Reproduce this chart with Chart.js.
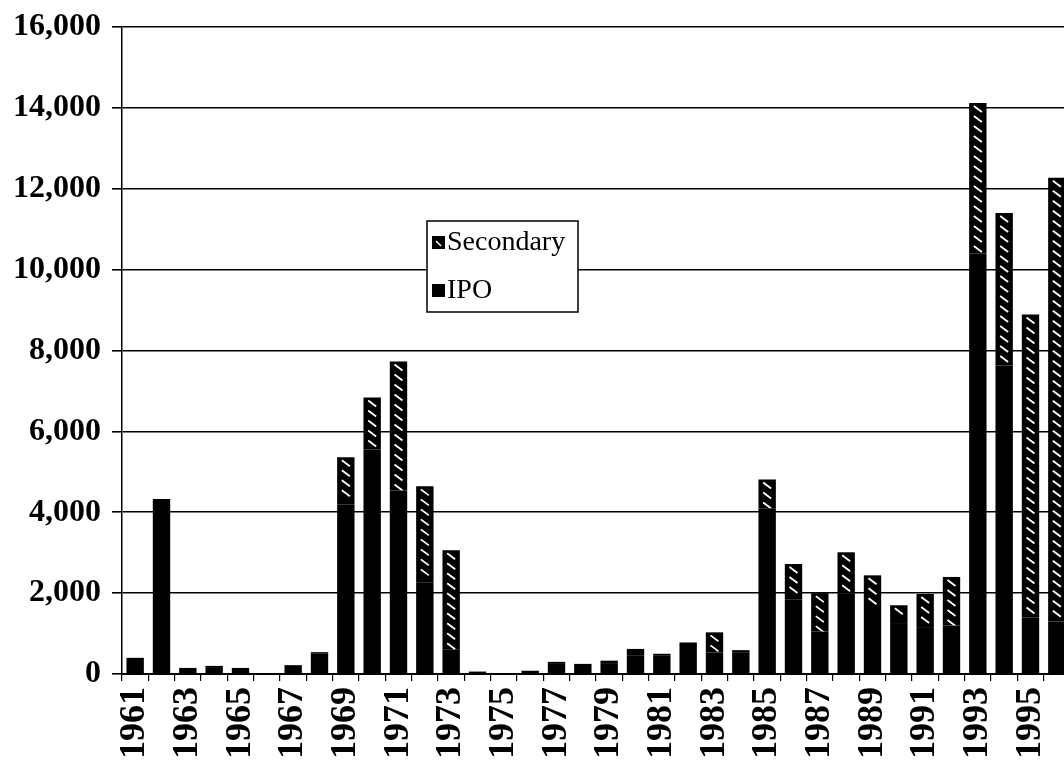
<!DOCTYPE html>
<html>
<head>
<meta charset="utf-8">
<script src="https://cdn.jsdelivr.net/npm/chart.js@4.4.1/dist/chart.umd.min.js"></script>
<style>
  html, body { margin: 0; padding: 0; background: #fff; overflow: hidden; }
  #wrap { width: 1072px; height: 768px; position: relative; }
</style>
</head>
<body>
<div id="wrap"><canvas id="chart"></canvas></div>
<script>
// values (millions)
const years = ["1961","1962","1963","1964","1965","1966","1967","1968","1969","1970",
               "1971","1972","1973","1974","1975","1976","1977","1978","1979","1980",
               "1981","1982","1983","1984","1985","1986","1987","1988","1989","1990",
               "1991","1992","1993","1994","1995","1996"];
const ipo = [400, 4330, 150, 150, 150, 0, 200, 500, 4200, 5550,
             4540, 2270, 600, 60, 0, 80, 250, 250, 250, 450,
             450, 780, 530, 540, 4100, 1850, 1050, 2000, 1580, 1260,
             1140, 1200, 10400, 7630, 1400, 1300];
const secondary = [0, 0, 0, 50, 0, 0, 20, 40, 1160, 1290,
                   3190, 2370, 2460, 0, 0, 0, 50, 0, 80, 170,
                   50, 0, 500, 50, 710, 870, 950, 1010, 860, 440,
                   840, 1200, 3720, 3770, 7490, 10970];
const yTicks = [0, 2000, 4000, 6000, 8000, 10000, 12000, 14000, 16000];

const serif = '"Liberation Serif", "DejaVu Serif", serif';

// white diagonal dashes on the secondary (black) bars
const hatchPlugin = {
    id: 'hatch',
    afterDatasetsDraw(chart) {
        const meta = chart.getDatasetMeta(1);
        const ctx = chart.ctx;
        ctx.save();
        ctx.strokeStyle = '#fff';
        ctx.lineWidth = 1.8;
        meta.data.forEach(bar => {
            const top = Math.min(bar.y, bar.base);
            const bottom = Math.max(bar.y, bar.base);
            if (bottom - top < 6) return;
            const half = bar.width / 2;
            ctx.save();
            ctx.beginPath();
            ctx.rect(bar.x - half, top, bar.width, bottom - top);
            ctx.clip();
            ctx.beginPath();
            for (let y = top + 6; y < bottom - 2; y += 10) {
                ctx.moveTo(bar.x - 4, y - 3);
                ctx.lineTo(bar.x + 4, y + 3);
            }
            ctx.stroke();
            ctx.restore();
        });
        ctx.restore();
    }
};

// legend box inside the plot
const boxLegend = {
    id: 'boxLegend',
    afterDraw(chart) {
        const ctx = chart.ctx;
        const x = 427, y = 221, w = 151, h = 91;
        ctx.save();
        ctx.fillStyle = '#fff';
        ctx.fillRect(x, y, w, h);
        ctx.strokeStyle = '#000';
        ctx.lineWidth = 1.5;
        ctx.strokeRect(x, y, w, h);
        const items = [chart.data.datasets[1], chart.data.datasets[0]];
        ctx.font = '28px ' + serif;
        ctx.textBaseline = 'middle';
        items.forEach((ds, i) => {
            const cy = y + 21 + i * 48;
            ctx.fillStyle = '#000';
            ctx.fillRect(x + 5, cy - 6, 13, 13);
            if (i === 0) {
                ctx.strokeStyle = '#fff';
                ctx.lineWidth = 1.4;
                ctx.beginPath();
                ctx.moveTo(x + 9, cy - 1);
                ctx.lineTo(x + 14, cy + 4);
                ctx.stroke();
            }
            ctx.fillStyle = '#000';
            ctx.fillText(ds.label, x + 20, cy + 1);
        });
        ctx.restore();
    }
};

new Chart(document.getElementById('chart'), {
    type: 'bar',
    data: {
        labels: years,
        datasets: [
            { label: 'IPO', data: ipo, backgroundColor: '#000', barPercentage: 0.66, categoryPercentage: 1 },
            { label: 'Secondary', data: secondary, backgroundColor: '#000', barPercentage: 0.66, categoryPercentage: 1 }
        ]
    },
    options: {
        responsive: true,
        maintainAspectRatio: false,
        animation: false,
        layout: { padding: { top: 27, right: 2, left: 0, bottom: 0 } },
        plugins: { legend: { display: false }, tooltip: { enabled: false } },
        scales: {
            x: {
                stacked: true,
                grid: { display: true, drawOnChartArea: false, drawTicks: true, tickLength: 7, offset: true, color: '#000', lineWidth: 1.2 },
                border: { color: '#000', width: 2 },
                ticks: {
                    autoSkip: false, maxRotation: 90, minRotation: 90,
                    color: '#000', padding: 6,
                    font: { family: serif, size: 36, weight: 'bold' },
                    callback: (v, i) => (i % 2 === 0 ? years[i] : '')
                },
                afterFit: s => { s.height = 94; s.paddingLeft = 0; s.paddingRight = 0; }
            },
            y: {
                stacked: true,
                min: 0, max: 16000,
                afterBuildTicks: s => { s.ticks = yTicks.map(v => ({ value: v })); },
                grid: { color: '#000', lineWidth: 1.6, tickLength: 10 },
                border: { color: '#000', width: 1.5 },
                ticks: {
                    color: '#000', padding: 11,
                    font: { family: serif, size: 32, weight: 'bold' },
                    callback: v => v.toLocaleString('en-US')
                },
                afterFit: s => { s.width = 122; s.paddingTop = 0; s.paddingBottom = 0; }
            }
        }
    },
    plugins: [hatchPlugin, boxLegend]
});
</script>
</body>
</html>
